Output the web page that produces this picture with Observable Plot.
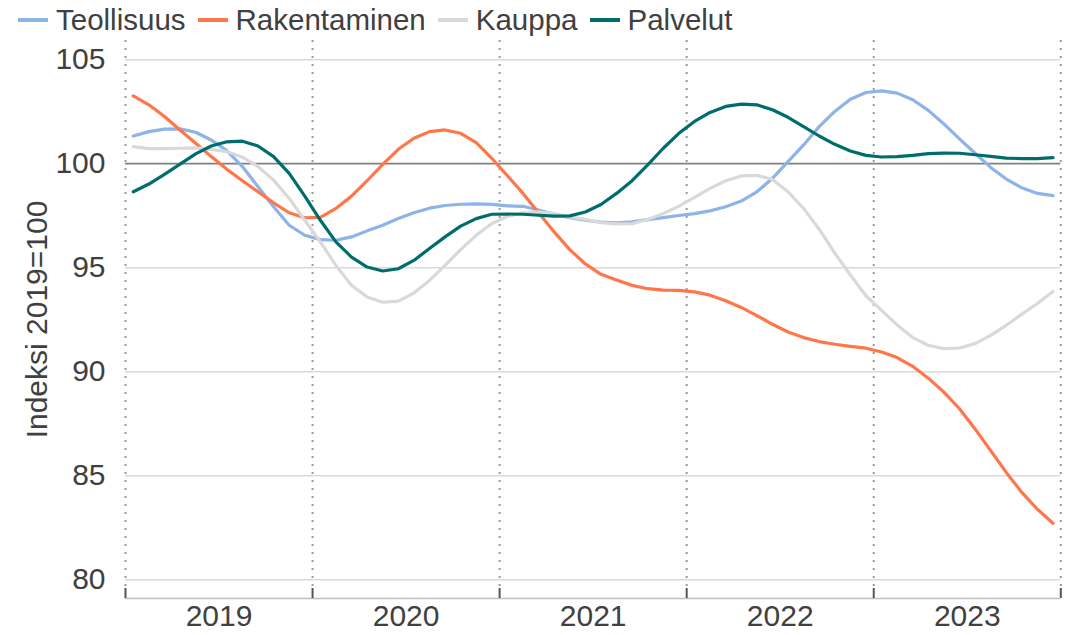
<!DOCTYPE html>
<html>
<head>
<meta charset="utf-8">
<script src="https://cdn.jsdelivr.net/npm/d3@7"></script>
<script src="https://cdn.jsdelivr.net/npm/@observablehq/plot@0.6"></script>
<style>
  html, body { margin: 0; padding: 0; background: #fff; }
  #wrap { position: relative; width: 1083px; height: 635px; font-family: "Liberation Sans", Arial, sans-serif; color: #404040; }
  #legend { position: absolute; left: 18px; top: 0; height: 40px; display: flex; align-items: center; font-size: 29.5px; white-space: nowrap; }
  .item { display: flex; align-items: center; margin-right: 12px; }
  .sw { display: inline-block; width: 30px; height: 4px; margin-right: 8px; }
  #chart { position: absolute; left: 0; top: 40px; }
</style>
</head>
<body>
<div id="wrap">
  <div id="legend"></div>
  <div id="chart"></div>
</div>
<script>
const years = [2019, 2020, 2021, 2022, 2023];
const seriesNames = ["Teollisuus", "Rakentaminen", "Kauppa", "Palvelut"];
const seriesColors = ["#8db3e8", "#ff764a", "#d9d9d9", "#006d6d"];
const yTicks = [80, 85, 90, 95, 100, 105];
const yLabel = "Indeksi 2019=100";

// Monthly values Jan 2019 – Dec 2023
const teollisuus = [
  101.33, 101.54, 101.66, 101.67, 101.51, 101.14, 100.63, 99.86, 98.89, 97.93, 97.04, 96.56,
  96.35, 96.32, 96.48, 96.77, 97.04, 97.36, 97.64, 97.86, 97.99, 98.05, 98.07, 98.04,
  97.97, 97.95, 97.77, 97.57, 97.40, 97.28, 97.19, 97.15, 97.20, 97.31, 97.41, 97.51,
  97.60, 97.73, 97.93, 98.20, 98.65, 99.29, 100.10, 100.90, 101.78, 102.51, 103.10, 103.42,
  103.50, 103.39, 103.07, 102.56, 101.91, 101.19, 100.50, 99.82, 99.26, 98.84, 98.57, 98.46
];
const rakentaminen = [
  103.26, 102.83, 102.27, 101.62, 100.98, 100.34, 99.73, 99.18, 98.65, 98.12, 97.64, 97.40,
  97.42, 97.85, 98.44, 99.18, 99.97, 100.69, 101.22, 101.54, 101.62, 101.46, 101.01, 100.26,
  99.42, 98.57, 97.64, 96.72, 95.87, 95.18, 94.68, 94.41, 94.15, 93.99, 93.92, 93.91,
  93.84, 93.68, 93.41, 93.09, 92.70, 92.28, 91.91, 91.64, 91.45, 91.32, 91.22, 91.13,
  90.95, 90.68, 90.26, 89.69, 89.02, 88.22, 87.25, 86.21, 85.16, 84.20, 83.39, 82.72
];
const kauppa = [
  100.82, 100.72, 100.72, 100.74, 100.76, 100.69, 100.58, 100.31, 99.86, 99.21, 98.33, 97.28,
  96.24, 95.11, 94.15, 93.59, 93.34, 93.39, 93.78, 94.39, 95.11, 95.87, 96.56, 97.12,
  97.46, 97.64, 97.68, 97.60, 97.44, 97.32, 97.17, 97.11, 97.12, 97.32, 97.60, 97.96,
  98.38, 98.81, 99.18, 99.41, 99.44, 99.24, 98.65, 97.85, 96.85, 95.70, 94.65, 93.65,
  92.95, 92.25, 91.64, 91.27, 91.11, 91.14, 91.35, 91.75, 92.23, 92.77, 93.28, 93.86
];
const palvelut = [
  98.65, 99.02, 99.49, 99.98, 100.47, 100.85, 101.05, 101.08, 100.85, 100.34, 99.53, 98.44,
  97.28, 96.24, 95.51, 95.03, 94.84, 94.95, 95.35, 95.92, 96.48, 97.00, 97.36, 97.57,
  97.58, 97.57, 97.52, 97.48, 97.49, 97.68, 98.04, 98.57, 99.18, 99.94, 100.74, 101.46,
  102.03, 102.46, 102.75, 102.86, 102.83, 102.59, 102.23, 101.78, 101.33, 100.93, 100.61, 100.40,
  100.32, 100.34, 100.40, 100.48, 100.51, 100.50, 100.43, 100.35, 100.27, 100.24, 100.24, 100.29
];
const seriesValues = [teollisuus, rakentaminen, kauppa, palvelut];

// Build long table: x = year + (month + 0.5)/12
const rows = [];
seriesNames.forEach((name, si) => {
  seriesValues[si].forEach((v, i) => {
    const y = years[Math.floor(i / 12)];
    rows.push({series: name, t: y + ((i % 12) + 0.5) / 12, value: v});
  });
});
const boundaries = [...years, years[years.length - 1] + 1];

// Legend
const legend = document.getElementById("legend");
seriesNames.forEach((n, i) => {
  const it = document.createElement("div");
  it.className = "item";
  const sw = document.createElement("span");
  sw.className = "sw";
  sw.style.background = seriesColors[i];
  const tx = document.createElement("span");
  tx.textContent = n;
  it.appendChild(sw);
  it.appendChild(tx);
  legend.appendChild(it);
});

const yTop = 105.92, yBase = 79.1;
const chart = Plot.plot({
  width: 1083,
  height: 595,
  marginLeft: 125,
  marginRight: 22.7,
  marginTop: 0,
  marginBottom: 37,
  style: {fontFamily: "'Liberation Sans', Arial, sans-serif", fontSize: "30px", color: "#404040", background: "#fff"},
  x: {domain: [boundaries[0], boundaries[boundaries.length - 1]], axis: null},
  y: {domain: [yBase, yTop], axis: null},
  color: {domain: seriesNames, range: seriesColors},
  marks: [
    Plot.ruleY(yTicks.filter(d => d !== 100), {stroke: "#d9d9d9", strokeWidth: 1.5}),
    Plot.ruleX(boundaries, {y1: yTop, y2: 79.62, stroke: "#9a9a9a", strokeWidth: 2, strokeDasharray: "2,6"}),
    Plot.ruleY([yBase], {stroke: "#bfbfbf", strokeWidth: 1.5}),
    Plot.ruleX(boundaries, {y1: 79.58, y2: yBase, stroke: "#555", strokeWidth: 2}),
    Plot.ruleY([100], {stroke: "#808080", strokeWidth: 1.8}),
    Plot.line(rows, {x: "t", y: "value", z: "series", stroke: "series", strokeWidth: 3.2}),
    Plot.axisY({ticks: yTicks, tickSize: 0, tickPadding: 20, label: null, fontSize: 30}),
    Plot.axisX({ticks: years.map(y => y + 0.5), tickFormat: d => String(Math.floor(d)), tickSize: 0, tickPadding: 6, label: null, fontSize: 30}),
    Plot.text([yLabel], {frameAnchor: "left", textAnchor: "middle", rotate: -90, dx: -88, fontSize: 30, fill: "#404040"})
  ]
});
document.getElementById("chart").appendChild(chart);
</script>
</body>
</html>
